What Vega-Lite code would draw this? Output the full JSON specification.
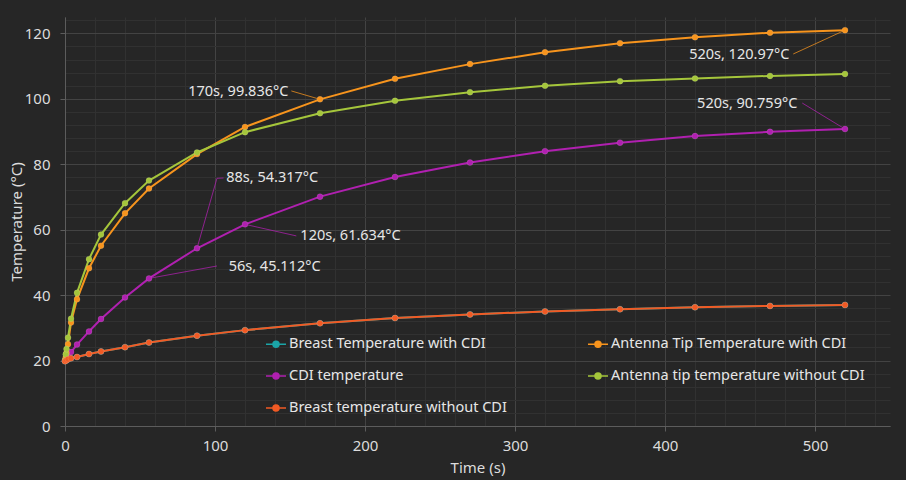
{
  "$schema": "https://vega.github.io/schema/vega-lite/v6.json",
  "width": 825,
  "height": 409,
  "autosize": {"type": "none"},
  "padding": {"left": 65, "top": 17, "right": 16, "bottom": 54},
  "background": "#262626",
  "config": {"view": {"stroke": null}, "font": "Noto Sans"},
  "datasets": {
    "series": [
      {"s": "Breast Temperature with CDI", "t": 0, "v": 19.8},
      {"s": "Breast Temperature with CDI", "t": 1, "v": 20.1},
      {"s": "Breast Temperature with CDI", "t": 2, "v": 20.4},
      {"s": "Breast Temperature with CDI", "t": 4, "v": 20.7},
      {"s": "Breast Temperature with CDI", "t": 8, "v": 21.1},
      {"s": "Breast Temperature with CDI", "t": 16, "v": 22.0},
      {"s": "Breast Temperature with CDI", "t": 24, "v": 22.8},
      {"s": "Breast Temperature with CDI", "t": 40, "v": 24.1},
      {"s": "Breast Temperature with CDI", "t": 56, "v": 25.5},
      {"s": "Breast Temperature with CDI", "t": 88, "v": 27.6},
      {"s": "Breast Temperature with CDI", "t": 120, "v": 29.3},
      {"s": "Breast Temperature with CDI", "t": 170, "v": 31.4},
      {"s": "Breast Temperature with CDI", "t": 220, "v": 33.0},
      {"s": "Breast Temperature with CDI", "t": 270, "v": 34.1},
      {"s": "Breast Temperature with CDI", "t": 320, "v": 35.0},
      {"s": "Breast Temperature with CDI", "t": 370, "v": 35.7},
      {"s": "Breast Temperature with CDI", "t": 420, "v": 36.3},
      {"s": "Breast Temperature with CDI", "t": 470, "v": 36.7},
      {"s": "Breast Temperature with CDI", "t": 520, "v": 37.0},
      {"s": "CDI temperature", "t": 0, "v": 20.0},
      {"s": "CDI temperature", "t": 2, "v": 21.5},
      {"s": "CDI temperature", "t": 4, "v": 22.6},
      {"s": "CDI temperature", "t": 8, "v": 24.9},
      {"s": "CDI temperature", "t": 16, "v": 28.9},
      {"s": "CDI temperature", "t": 24, "v": 32.7},
      {"s": "CDI temperature", "t": 40, "v": 39.3},
      {"s": "CDI temperature", "t": 56, "v": 45.112},
      {"s": "CDI temperature", "t": 88, "v": 54.317},
      {"s": "CDI temperature", "t": 120, "v": 61.634},
      {"s": "CDI temperature", "t": 170, "v": 70.1},
      {"s": "CDI temperature", "t": 220, "v": 76.1},
      {"s": "CDI temperature", "t": 270, "v": 80.5},
      {"s": "CDI temperature", "t": 320, "v": 84.0},
      {"s": "CDI temperature", "t": 370, "v": 86.6},
      {"s": "CDI temperature", "t": 420, "v": 88.6},
      {"s": "CDI temperature", "t": 470, "v": 89.9},
      {"s": "CDI temperature", "t": 520, "v": 90.759},
      {"s": "Antenna Tip Temperature with CDI", "t": 0, "v": 20.0},
      {"s": "Antenna Tip Temperature with CDI", "t": 0.5, "v": 21.0},
      {"s": "Antenna Tip Temperature with CDI", "t": 1, "v": 22.3},
      {"s": "Antenna Tip Temperature with CDI", "t": 2, "v": 25.0},
      {"s": "Antenna Tip Temperature with CDI", "t": 4, "v": 31.6},
      {"s": "Antenna Tip Temperature with CDI", "t": 8, "v": 38.7},
      {"s": "Antenna Tip Temperature with CDI", "t": 16, "v": 48.2},
      {"s": "Antenna Tip Temperature with CDI", "t": 24, "v": 55.1},
      {"s": "Antenna Tip Temperature with CDI", "t": 40, "v": 65.0},
      {"s": "Antenna Tip Temperature with CDI", "t": 56, "v": 72.6},
      {"s": "Antenna Tip Temperature with CDI", "t": 88, "v": 83.1},
      {"s": "Antenna Tip Temperature with CDI", "t": 120, "v": 91.4},
      {"s": "Antenna Tip Temperature with CDI", "t": 170, "v": 99.836},
      {"s": "Antenna Tip Temperature with CDI", "t": 220, "v": 106.1},
      {"s": "Antenna Tip Temperature with CDI", "t": 270, "v": 110.6},
      {"s": "Antenna Tip Temperature with CDI", "t": 320, "v": 114.2},
      {"s": "Antenna Tip Temperature with CDI", "t": 370, "v": 117.0},
      {"s": "Antenna Tip Temperature with CDI", "t": 420, "v": 118.8},
      {"s": "Antenna Tip Temperature with CDI", "t": 470, "v": 120.2},
      {"s": "Antenna Tip Temperature with CDI", "t": 520, "v": 120.97},
      {"s": "Antenna tip temperature without CDI", "t": 0, "v": 20.0},
      {"s": "Antenna tip temperature without CDI", "t": 0.5, "v": 21.9},
      {"s": "Antenna tip temperature without CDI", "t": 1, "v": 23.5},
      {"s": "Antenna tip temperature without CDI", "t": 2, "v": 27.0},
      {"s": "Antenna tip temperature without CDI", "t": 4, "v": 32.8},
      {"s": "Antenna tip temperature without CDI", "t": 8, "v": 40.7},
      {"s": "Antenna tip temperature without CDI", "t": 16, "v": 51.0},
      {"s": "Antenna tip temperature without CDI", "t": 24, "v": 58.5},
      {"s": "Antenna tip temperature without CDI", "t": 40, "v": 68.1},
      {"s": "Antenna tip temperature without CDI", "t": 56, "v": 75.0},
      {"s": "Antenna tip temperature without CDI", "t": 88, "v": 83.6},
      {"s": "Antenna tip temperature without CDI", "t": 120, "v": 89.8},
      {"s": "Antenna tip temperature without CDI", "t": 170, "v": 95.6},
      {"s": "Antenna tip temperature without CDI", "t": 220, "v": 99.4},
      {"s": "Antenna tip temperature without CDI", "t": 270, "v": 102.0},
      {"s": "Antenna tip temperature without CDI", "t": 320, "v": 104.0},
      {"s": "Antenna tip temperature without CDI", "t": 370, "v": 105.4},
      {"s": "Antenna tip temperature without CDI", "t": 420, "v": 106.2},
      {"s": "Antenna tip temperature without CDI", "t": 470, "v": 107.0},
      {"s": "Antenna tip temperature without CDI", "t": 520, "v": 107.6},
      {"s": "Breast temperature without  CDI", "t": 0, "v": 19.8},
      {"s": "Breast temperature without  CDI", "t": 1, "v": 20.1},
      {"s": "Breast temperature without  CDI", "t": 2, "v": 20.4},
      {"s": "Breast temperature without  CDI", "t": 4, "v": 20.7},
      {"s": "Breast temperature without  CDI", "t": 8, "v": 21.1},
      {"s": "Breast temperature without  CDI", "t": 16, "v": 22.0},
      {"s": "Breast temperature without  CDI", "t": 24, "v": 22.8},
      {"s": "Breast temperature without  CDI", "t": 40, "v": 24.1},
      {"s": "Breast temperature without  CDI", "t": 56, "v": 25.5},
      {"s": "Breast temperature without  CDI", "t": 88, "v": 27.6},
      {"s": "Breast temperature without  CDI", "t": 120, "v": 29.3},
      {"s": "Breast temperature without  CDI", "t": 170, "v": 31.4},
      {"s": "Breast temperature without  CDI", "t": 220, "v": 33.0},
      {"s": "Breast temperature without  CDI", "t": 270, "v": 34.1},
      {"s": "Breast temperature without  CDI", "t": 320, "v": 35.0},
      {"s": "Breast temperature without  CDI", "t": 370, "v": 35.7},
      {"s": "Breast temperature without  CDI", "t": 420, "v": 36.3},
      {"s": "Breast temperature without  CDI", "t": 470, "v": 36.7},
      {"s": "Breast temperature without  CDI", "t": 520, "v": 37.0}
    ],
    "notes": [
      {"label": "170s, 99.836°C", "side": "right", "t": 148.9, "v": 102.1},
      {"label": "520s, 120.97°C", "side": "right", "t": 482.9, "v": 113.4},
      {"label": "520s, 90.759°C", "side": "right", "t": 488.2, "v": 98.4},
      {"label": "88s, 54.317°C", "side": "left", "t": 107.5, "v": 75.7},
      {"label": "120s, 61.634°C", "side": "left", "t": 156.9, "v": 58.1},
      {"label": "56s, 45.112°C", "side": "left", "t": 109.1, "v": 48.5}
    ],
    "leaders": [
      {"id": 1, "k": 0, "s": "Antenna Tip Temperature with CDI", "t": 150.9, "v": 102.4},
      {"id": 1, "k": 1, "s": "Antenna Tip Temperature with CDI", "t": 170, "v": 99.836},
      {"id": 2, "k": 0, "s": "Antenna Tip Temperature with CDI", "t": 485.5, "v": 113.7},
      {"id": 2, "k": 1, "s": "Antenna Tip Temperature with CDI", "t": 520, "v": 120.97},
      {"id": 3, "k": 0, "s": "CDI temperature", "t": 491.5, "v": 98.7},
      {"id": 3, "k": 1, "s": "CDI temperature", "t": 520, "v": 90.759},
      {"id": 4, "k": 0, "s": "CDI temperature", "t": 88, "v": 54.317},
      {"id": 4, "k": 1, "s": "CDI temperature", "t": 101.3, "v": 75.7},
      {"id": 4, "k": 2, "s": "CDI temperature", "t": 105.7, "v": 75.8},
      {"id": 5, "k": 0, "s": "CDI temperature", "t": 120, "v": 61.634},
      {"id": 5, "k": 1, "s": "CDI temperature", "t": 154.2, "v": 58.1},
      {"id": 6, "k": 0, "s": "CDI temperature", "t": 56, "v": 45.112},
      {"id": 6, "k": 1, "s": "CDI temperature", "t": 101.3, "v": 48.9}
    ]
  },
  "encoding": {
    "x": {
      "field": "t", "type": "quantitative",
      "scale": {"domain": [0, 550], "nice": false, "zero": false},
      "axis": {
        "title": "Time (s)",
        "values": [0, 20, 40, 60, 80, 100, 120, 140, 160, 180, 200, 220, 240, 260, 280, 300, 320, 340, 360, 380, 400, 420, 440, 460, 480, 500, 520, 540],
        "labelExpr": "datum.value % 100 === 0 ? datum.label : ''",
        "grid": true,
        "gridColor": {"condition": {"test": "datum.value % 100 === 0", "value": "#434343"}, "value": "#313131"},
        "gridWidth": 1,
        "tickColor": {"condition": {"test": "datum.value % 100 === 0", "value": "#5c5c5c"}, "value": "transparent"},
        "tickSize": 5,
        "domainColor": "#5c5c5c",
        "labelColor": "#dcdcdc",
        "labelFontSize": 15,
        "labelPadding": 7,
        "labelFlush": false,
        "labelOverlap": false,
        "titleColor": "#dcdcdc",
        "titleFontSize": 15,
        "titleFontWeight": "normal",
        "titlePadding": 7
      }
    },
    "y": {
      "field": "v", "type": "quantitative",
      "scale": {"domain": [0, 125], "nice": false},
      "axis": {
        "title": "Temperature (°C)",
        "values": [0, 4, 8, 12, 16, 20, 24, 28, 32, 36, 40, 44, 48, 52, 56, 60, 64, 68, 72, 76, 80, 84, 88, 92, 96, 100, 104, 108, 112, 116, 120, 124],
        "labelExpr": "datum.value % 20 === 0 ? datum.label : ''",
        "grid": true,
        "gridColor": {"condition": {"test": "datum.value % 20 === 0", "value": "#434343"}, "value": "#313131"},
        "tickColor": {"condition": {"test": "datum.value % 20 === 0", "value": "#5c5c5c"}, "value": "transparent"},
        "tickSize": 5,
        "domainColor": "#5c5c5c",
        "labelColor": "#dcdcdc",
        "labelFontSize": 15,
        "labelPadding": 10,
        "labelOverlap": false,
        "titleColor": "#dcdcdc",
        "titleFontSize": 15,
        "titleFontWeight": "normal",
        "titlePadding": 0
      }
    }
  },
  "layer": [
    {
      "data": {"name": "series"},
      "mark": {"type": "line", "strokeWidth": 2},
      "encoding": {
        "color": {
          "field": "s", "type": "nominal",
          "scale": {
            "domain": ["Breast Temperature with CDI", "Antenna Tip Temperature with CDI", "CDI temperature", "Antenna tip temperature without CDI", "Breast temperature without  CDI"],
            "range": ["#1ba5a8", "#f7941d", "#b020b0", "#a5c63b", "#f15a24"]
          },
          "legend": {
            "orient": "none",
            "direction": "horizontal",
            "legendX": 200,
            "legendY": 316,
            "columns": 2,
            "title": null,
            "padding": 0,
            "symbolType": "M-1,0H1M-0.3,0A0.3,0.3,0,1,1,0.3,0A0.3,0.3,0,1,1,-0.3,0Z",
            "symbolSize": 400,
            "symbolStrokeWidth": 1.5,
            "labelFontSize": 14.5,
            "labelColor": "#e6e6e6",
            "labelOffset": 2,
            "labelLimit": 400,
            "rowPadding": 14,
            "columnPadding": 74,
            "encode": {
              "symbols": {
                "update": {
                  "fill": {"scale": "color", "field": "value"},
                  "stroke": {"scale": "color", "field": "value"},
                  "opacity": {"value": 1}
                }
              }
            }
          }
        }
      }
    },
    {
      "data": {"name": "series"},
      "mark": {"type": "circle", "size": 36, "opacity": 1, "stroke": "#ffffff", "strokeOpacity": 0.2, "strokeWidth": 0.6},
      "encoding": {
        "color": {"field": "s", "type": "nominal", "legend": null}
      }
    },
    {
      "data": {"name": "leaders"},
      "mark": {"type": "line", "strokeWidth": 1, "opacity": 0.75},
      "encoding": {
        "detail": {"field": "id", "type": "nominal"},
        "order": {"field": "k", "type": "quantitative"},
        "color": {"field": "s", "type": "nominal", "legend": null}
      }
    },
    {
      "data": {"name": "notes"},
      "transform": [{"filter": "datum.side === 'right'"}],
      "mark": {"type": "text", "align": "right", "baseline": "middle", "fontSize": 14.5, "color": "#e6e6e6"},
      "encoding": {"text": {"field": "label", "type": "nominal"}}
    },
    {
      "data": {"name": "notes"},
      "transform": [{"filter": "datum.side === 'left'"}],
      "mark": {"type": "text", "align": "left", "baseline": "middle", "fontSize": 14.5, "color": "#e6e6e6"},
      "encoding": {"text": {"field": "label", "type": "nominal"}}
    }
  ]
}
